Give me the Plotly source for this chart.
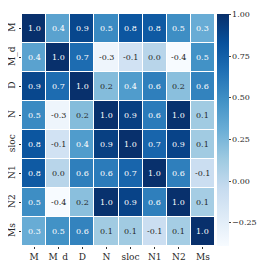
import plotly.graph_objects as go

labels = ["M", "M_d", "D", "N", "sloc", "N1", "N2", "Ms"]

row_M    = [1.00, 0.38, 0.88, 0.52, 0.80, 0.78, 0.50, 0.32]
row_Md   = [0.38, 1.00, 0.68, -0.33, -0.12, 0.02, -0.39, 0.48]
row_D    = [0.88, 0.68, 1.00, 0.22, 0.42, 0.58, 0.20, 0.56]
row_N    = [0.52, -0.33, 0.22, 1.00, 0.92, 0.60, 0.99, 0.12]
row_sloc = [0.80, -0.12, 0.42, 0.92, 1.00, 0.72, 0.90, 0.12]
row_N1   = [0.78, 0.02, 0.58, 0.60, 0.72, 1.00, 0.58, -0.08]
row_N2   = [0.50, -0.39, 0.20, 0.99, 0.90, 0.58, 1.00, 0.10]
row_Ms   = [0.32, 0.48, 0.56, 0.12, 0.12, -0.08, 0.10, 1.00]

z = [row_M, row_Md, row_D, row_N, row_sloc, row_N1, row_N2, row_Ms]
colorbar_ticks = [-0.25, 0.0, 0.25, 0.5, 0.75, 1.0]

font_family = "DejaVu Serif"

fig = go.Figure(go.Heatmap(
    z=z, x=labels, y=labels,
    colorscale="Blues", zmin=-0.39, zmax=1.002,
    xgap=1, ygap=1,
    colorbar=dict(
        thickness=12, lenmode="fraction", len=1.0,
        x=(209 - 14) / 193, xanchor="left", xpad=0,
        y=0, yanchor="bottom", ypad=0,
        tickvals=colorbar_ticks, tickformat=".2f",
        ticks="outside", ticklen=2, outlinewidth=0,
        tickfont=dict(family=font_family, size=8, color="#262626"),
    ),
))

annotations = []
for i, row in enumerate(z):
    for j, v in enumerate(row):
        annotations.append(dict(
            x=labels[j], y=labels[i], text=f"{v:.1f}".replace("-0.0", "0.0"),
            showarrow=False,
            font=dict(family=font_family, size=8,
                      color="white" if v >= 0.27 else "#262626"),
        ))

fig.update_layout(
    width=266, height=261,
    margin=dict(l=14, r=59, t=6, b=23, autoexpand=False),
    paper_bgcolor="white", plot_bgcolor="white",
    annotations=annotations,
    font=dict(family=font_family, size=9, color="#262626"),
)
fig.update_xaxes(ticks="outside", ticklen=2, tickcolor="#333", showgrid=False,
                 automargin=False,
                 tickfont=dict(family=font_family, size=9), tickangle=0)
fig.update_yaxes(autorange="reversed", ticks="outside", ticklen=2, tickcolor="#333",
                 showgrid=False, tickangle=-90, automargin=False,
                 tickfont=dict(family=font_family, size=9))

fig.write_html("out.html")
